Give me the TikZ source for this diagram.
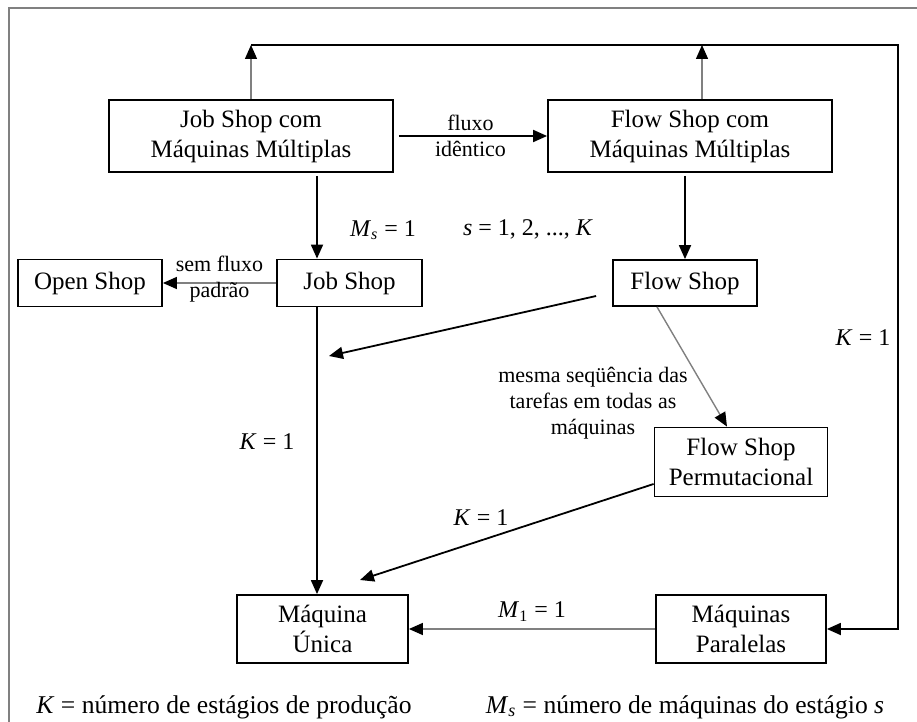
\documentclass[tikz,border=0pt]{standalone}
\usepackage{fontspec}
\setmainfont{Liberation Serif}
\usetikzlibrary{arrows.meta}

\begin{document}
\begin{tikzpicture}[x=0.5pt, y=-0.5pt,
    box/.style={draw, rectangle, line width=0.9pt, align=center, inner sep=0pt, font=\fontsize{12.5}{15}\selectfont},
    lbl/.style={inner sep=1pt, text=black, font=\fontsize{12}{14}\selectfont},
    small/.style={inner sep=1pt, text=black, align=center, font=\fontsize{11}{13}\selectfont},
    arr/.style={-{Triangle[length=7pt,width=6pt]}, line width=0.9pt},
    garr/.style={-{Triangle[length=7pt,width=6pt,color=black]}, line width=0.7pt, gray}]
    \useasboundingbox (0,0) rectangle (917,722);
    \draw[gray, line width=1pt] (917,8) -- (9,8) -- (9,722);

    % Nodes
    \node (jsmm) [box, minimum width=142pt, minimum height=36pt] at (251,136) {Job Shop com\\Máquinas Múltiplas};
    \node (fsmm) [box, minimum width=142pt, minimum height=36pt, right of=jsmm, node distance=219.5pt] {Flow Shop com\\Máquinas Múltiplas};
    \node (jobshop) [box, minimum width=72.5pt, minimum height=23.5pt] at (349.5,283) {Job Shop};
    \node (openshop) [box, minimum width=72pt, minimum height=23.5pt, left of=jobshop, node distance=129.75pt] {Open Shop};
    \node (flowshop) [box, minimum width=72pt, minimum height=23pt, right of=jobshop, node distance=167.75pt] {Flow Shop};
    \node (unica) [box, minimum width=85.5pt, minimum height=34pt] at (322.5,629) {Máquina\\Única};
    \node (paralelas) [box, minimum width=85pt, minimum height=34pt, right of=unica, node distance=209.25pt] {Máquinas\\Paralelas};
    \node (permut) [box, minimum width=86.5pt, minimum height=34.5pt, above of=paralelas, node distance=83.5pt] {Flow Shop\\Permutacional};

    % Labels
    \node (msone) [lbl] at (383,230) {\textit{M}\textsubscript{\textit{s}} = 1};
    \node (srange) [lbl] at (528,229) {\textit{s} = 1, 2, ..., \textit{K}};
    \node (kleft) [lbl] at (267,442) {\textit{K} = 1};
    \node (kmid) [lbl] at (481,518) {\textit{K} = 1};
    \node (kright) [lbl] at (863,338) {\textit{K} = 1};
    \node (seqlbl) [small] at (593,403) {mesma seqüência das\\tarefas em todas as\\máquinas};
    \node (legK) [lbl, font=\fontsize{12.8}{15}\selectfont] at (224,707) {\textit{K} = número de estágios de produção};
    \node (legM) [lbl, font=\fontsize{12.8}{15}\selectfont] at (685,707) {\textit{M}\textsubscript{\textit{s}} = número de máquinas do estágio \textit{s}};

    \coordinate (spine) at (317,0);
    \coordinate (fsin) at (329,356);
    \coordinate (unin) at (360,580);
    \coordinate (corner) at (898,45);
    \coordinate (upR) at (702,45);

    % Paths
    \draw[arr, shorten <=2.5pt] (jsmm.east) -- node[small] {fluxo\\idêntico} (fsmm.west);
    \draw[garr] (jsmm.north) -- (jsmm.north |- corner);
    \draw[garr] (fsmm.north -| upR) -- (upR);
    \draw[arr] (jsmm.north |- corner) -- (corner) -- (corner |- paralelas.east) -- (paralelas.east);
    \draw[arr, shorten <=1.5pt] (jsmm.south -| spine) -- (jobshop.north -| spine);
    \draw[arr] (jobshop.south -| spine) -- (unica.north -| spine);
    \draw[arr, shorten <=1.5pt] (fsmm.south -| flowshop) -- (flowshop.north);
    \draw[garr] (jobshop.west) -- node[small, yshift=2pt] {sem fluxo\\padrão} (openshop.east);
    \draw[arr] ([xshift=-8pt,yshift=-6.5pt]flowshop.west) -- (fsin);
    \draw[garr] ([xshift=-14pt]flowshop.south) -- ([xshift=-7pt]permut.north);
    \draw[arr] ([yshift=-11pt]permut.west) -- (unin);
    \draw[garr] (paralelas.west) -- node[lbl, above=2.5pt] {\textit{M}\textsubscript{1} = 1} (unica.east);
  \end{tikzpicture}
\end{document}
